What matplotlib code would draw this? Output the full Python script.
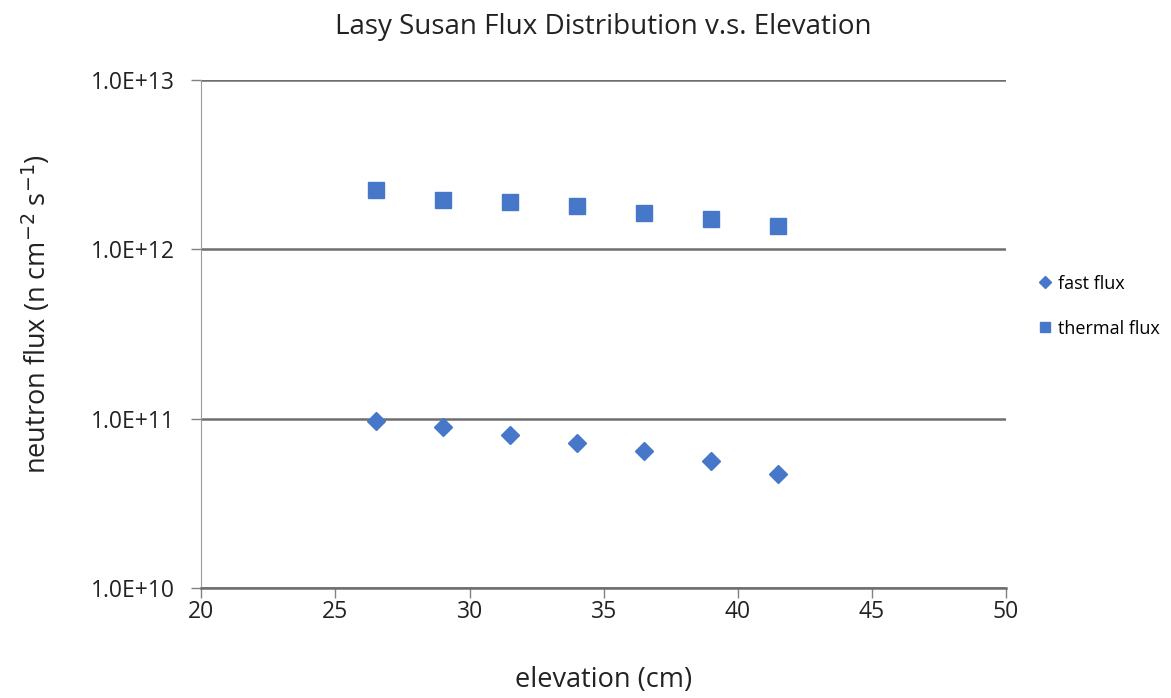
import matplotlib.pyplot as plt

elevation = [26.5, 29.0, 31.5, 34.0, 36.5, 39.0, 41.5]
fast_flux = [0.97e11, 0.89e11, 0.80e11, 0.72e11, 0.64e11, 0.56e11, 0.47e11]
thermal_flux = [2.26e12, 1.96e12, 1.91e12, 1.80e12, 1.64e12, 1.52e12, 1.37e12]
xticks = [20, 25, 30, 35, 40, 45, 50]
yticks = [1e10, 1e11, 1e12, 1e13]
ylabels = ['1.0E+10', '1.0E+11', '1.0E+12', '1.0E+13']

plt.rcParams['font.family'] = ['Open Sans', 'DejaVu Sans']
blue = '#4677c9'

fig = plt.figure(figsize=(11.71, 6.98), dpi=100)
ax = fig.add_axes([0.172, 0.158, 0.687, 0.727])

ax.plot(elevation, fast_flux, 'D', color=blue, markersize=9.5, label='fast flux', zorder=3)
ax.plot(elevation, thermal_flux, 's', color=blue, markersize=11, label='thermal flux', zorder=3)

ax.set_yscale('log')
ax.set_xlim(20, 50)
ax.set_ylim(1e10, 1e13)
ax.set_xticks(xticks)
ax.set_yticks(yticks)
ax.set_yticklabels(ylabels)
ax.minorticks_off()
ax.yaxis.grid(True, color='#6e6e6e', linewidth=1.8)
ax.set_axisbelow(True)

for s in ['top', 'right']:
    ax.spines[s].set_visible(False)
ax.spines['left'].set_color('#9a9a9a')
ax.spines['bottom'].set_color('#6e6e6e')
ax.spines['bottom'].set_linewidth(1.8)
ax.tick_params(axis='both', colors='#808080', labelcolor='#222222', labelsize=16.5, length=7, width=1)
ax.tick_params(axis='x', pad=2)
ax.tick_params(axis='y', pad=12)

ax.set_title('Lasy Susan Flux Distribution v.s. Elevation', fontsize=20, color='#222222', pad=33)
ax.set_xlabel('elevation (cm)', fontsize=19.5, color='#222222', labelpad=30)
ax.set_ylabel('neutron flux (n cm$^{-2}$ s$^{-1}$)', fontsize=19.5, color='#222222')
ax.yaxis.set_label_coords(-0.185, 0.54)

ax.legend(loc='center left', bbox_to_anchor=(1.02, 0.555), frameon=False, fontsize=13,
          markerscale=0.6, handlelength=0.7, handletextpad=0.4, labelspacing=1.5)

fig.savefig('out.png', dpi=100)
